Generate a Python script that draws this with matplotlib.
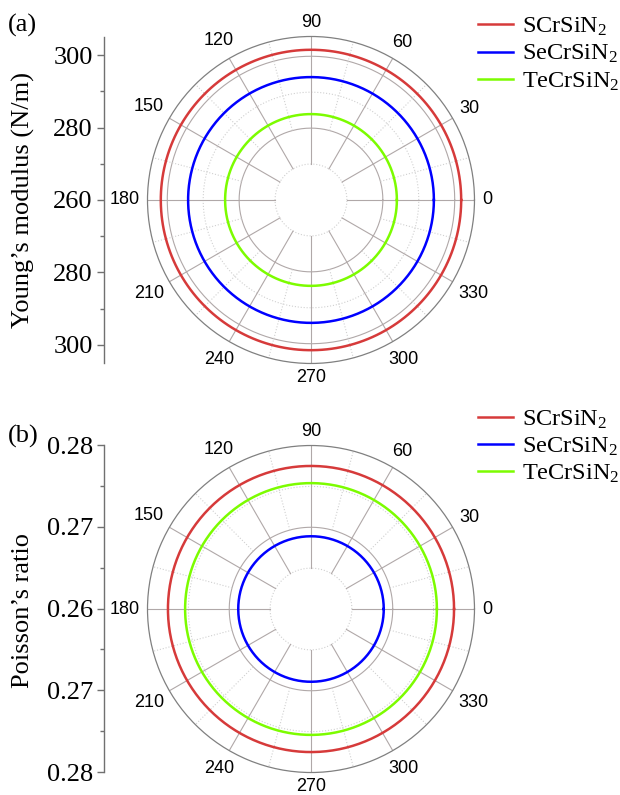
import numpy as np
import matplotlib.pyplot as plt

plt.rcParams['mathtext.fontset'] = 'custom'
plt.rcParams['mathtext.rm'] = 'Liberation Serif'
plt.rcParams['mathtext.it'] = 'Liberation Serif:italic'

# materiales y valores (isotrópicos: el mismo valor en todas las direcciones)
materials = ['SCrSiN$_2$', 'SeCrSiN$_2$', 'TeCrSiN$_2$']
colors = ['#d63a3a', '#0000ff', '#7cfc00']
young = [301.8, 294.2, 283.9]          # N/m
poisson = [0.2775, 0.2689, 0.2754]

angles = [0, 30, 60, 90, 120, 150, 180, 210, 240, 270, 300, 330]
angle_labels = ['0', '30', '60', '90', '120', '150', '180', '210', '240', '270', '300', '330']

young_ticks = [-40, -20, 0, 20, 40]
young_ticklabels = ['300', '280', '260', '280', '300']
poisson_ticks = [-0.02, -0.01, 0, 0.01, 0.02]
poisson_ticklabels = ['0.28', '0.27', '0.26', '0.27', '0.28']

serif = 'Liberation Serif'
sans = 'Liberation Sans'

fig = plt.figure(figsize=(6.2, 7.95), dpi=100)
R_PX = 163.5  # radio del círculo polar en píxeles


def polar_panel(rect, values, r0, rmax, solid_r, dotted_r, r_spoke, r_dspoke):
    ax = fig.add_axes(rect, projection='polar')
    ax.set_ylim(r0, rmax)
    ax.grid(False)
    ax.set_yticks([])
    ax.set_xticks([])
    ax.spines['polar'].set_color('#808080')
    ax.spines['polar'].set_linewidth(0.9)

    # etiquetas de ángulo a distancia fija del borde (como en Origin)
    for a, lab in zip(angles, angle_labels):
        t = np.deg2rad(a)
        w, h = 10.0 * len(lab), 13.0
        d = R_PX + 7.5 + abs(np.cos(t)) * w / 2 + abs(np.sin(t)) * h / 2
        r = d / (2 * R_PX)
        ax.text(0.5 + r * np.cos(t), 0.5 + r * np.sin(t), lab, transform=ax.transAxes,
                ha='center', va='center', fontfamily=sans, fontsize=13)

    full = np.linspace(0, 2 * np.pi, 400)
    # rejilla: anillos sólidos y punteados
    for r in solid_r:
        ax.plot(full, np.full_like(full, r), color='#b0a8a8', lw=0.8, zorder=1)
    for r in dotted_r:
        ax.plot(full, np.full_like(full, r), color='#d0d0d0', lw=0.8, ls=':', zorder=1)
    # rayos
    for a in np.deg2rad(np.arange(0, 360, 30)):
        ax.plot([a, a], [r_spoke, rmax], color='#b0a8a8', lw=0.8, zorder=1)
    for a in np.deg2rad(np.arange(15, 360, 30)):
        ax.plot([a, a], [r_dspoke, rmax], color='#d0d0d0', lw=0.8, ls=':', zorder=1)

    lines = []
    for name, v, c in zip(materials, values, colors):
        l, = ax.plot(full, np.full_like(full, v), color=c, lw=1.8, label=name, zorder=3)
        lines.append(l)
    return ax, lines


def side_axis(rect, lim, ticks, labels, minor, ylabel, ylabel_y):
    ax = fig.add_axes(rect)
    ax.set_facecolor('none')
    for s in ['top', 'right', 'bottom']:
        ax.spines[s].set_visible(False)
    ax.spines['left'].set_color('#707070')
    ax.spines['left'].set_linewidth(1.0)
    ax.set_xticks([])
    ax.set_ylim(-lim, lim)
    ax.set_yticks(ticks)
    ax.set_yticklabels(labels, fontfamily=serif, fontsize=19)
    ax.set_yticks(minor, minor=True)
    ax.tick_params(axis='y', which='major', length=5, width=1, color='#707070', pad=3)
    ax.tick_params(axis='y', which='minor', length=3, width=1, color='#707070')
    fig.text(23 / 620, ylabel_y, ylabel, rotation=90, ha='center', va='center',
             fontfamily=serif, fontsize=19)
    return ax


# (a) módulo de Young
ax_a, lines_a = polar_panel([0.2379, 0.5428, 0.5274, 0.4113], young, 260, 305.5,
                            [280, 300], [270, 290], 270, 280)
side_axis([0.1677, 0.5434, 0.001, 0.4101], 45.0, young_ticks, young_ticklabels,
          [-30, -10, 10, 30], 'Young’s modulus (N/m)', 1 - 200 / 795)
fig.text(8 / 620, 1 - 25 / 795, '(a)', fontfamily=serif, fontsize=19, va='center')
fig.legend(handles=lines_a, loc='upper left', bbox_to_anchor=(0.771, 0.980),
           frameon=False, prop={'family': serif, 'size': 17.5}, handlelength=1.45,
           handletextpad=0.35, labelspacing=0.2, borderpad=0, borderaxespad=0)

# (b) razón de Poisson
ax_b, lines_b = polar_panel([0.2379, 0.0283, 0.5274, 0.4113], poisson, 0.26, 0.28,
                            [0.27], [0.265, 0.275], 0.265, 0.27)
side_axis([0.1677, 0.0289, 0.001, 0.4113], 0.02, poisson_ticks, poisson_ticklabels,
          [-0.015, -0.005, 0.005, 0.015], 'Poisson’s ratio', 1 - 611 / 795)
fig.text(8 / 620, 1 - 436 / 795, '(b)', fontfamily=serif, fontsize=19, va='center')
fig.legend(handles=lines_b, loc='upper left', bbox_to_anchor=(0.771, 0.486),
           frameon=False, prop={'family': serif, 'size': 17.5}, handlelength=1.45,
           handletextpad=0.35, labelspacing=0.2, borderpad=0, borderaxespad=0)

fig.savefig('out.png', dpi=100)
